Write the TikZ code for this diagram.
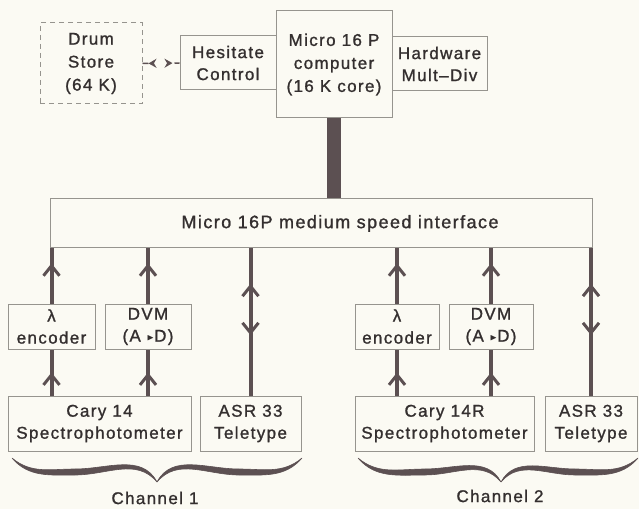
\documentclass[tikz,border=0pt]{standalone}
\usepackage{fontspec}
\setmainfont{Liberation Sans}[LetterSpace=8, FakeBold=1.2]
\usepackage{amssymb}
\usetikzlibrary{arrows.meta, decorations.markings, positioning}

\definecolor{paper}{RGB}{251,250,243}
\definecolor{ink}{RGB}{52,47,47}
\definecolor{wire}{RGB}{92,80,82}
\definecolor{frame}{RGB}{150,148,142}

\tikzset{
	unit/.style = {draw = frame, line width = 1pt, fill = paper, text = ink, align = center, inner sep = 0pt, font = \fontsize{17}{22}\selectfont},
	barb/.tip = {Straight Barb[length = 10pt, width = 16pt, line width = 3pt]},
	stub/.tip = {Stealth[length = 8pt, width = 9pt]},
	wireup/.style = {color = wire, line width = 4pt, postaction = {decorate}, decoration = {markings, mark = at position #1 with {\arrow{barb}}}},
	wireboth/.style = {color = wire, line width = 4pt, postaction = {decorate}, decoration = {markings, mark = at position 0.76 with {\arrow{barb}}, mark = at position 0.41 with {\arrowreversed{barb}}}},
	bus/.style = {color = wire, line width = 14pt},
	drumlink/.style = {color = wire, line width = 1.5pt, dash pattern = on 6pt off 26pt, postaction = {decorate}, decoration = {markings, mark = at position 6pt with {\arrowreversed{stub}}, mark = at position 30pt with {\arrow{stub}}}},
	brace/.style = {fill = wire, draw = wire, line width = 0.6pt, line join = round},
	chan/.style = {text = ink, font = \fontsize{17}{22}\selectfont}
}

\newcommand{\atod}{(A \raisebox{1.5pt}{\scalebox{0.55}{$\blacktriangleright$}}D)}

\begin{document}
\begin{tikzpicture}[x = 1pt, y = 1pt]

	\fill[paper] (0, 0) rectangle (639, 509);
	\useasboundingbox (0, 0) rectangle (639, 509);

	% top row
	\node[unit, dashed, dash pattern = on 5pt off 4pt, minimum width = 102pt, minimum height = 81pt, font = \fontsize{17}{23}\selectfont] (drum) at (91, 445.5) {Drum\\Store\\(64 K)};
	\node[unit, minimum width = 96pt, minimum height = 54pt] (hesit) at (228, 446) {Hesitate\\Control};
	\node[unit, minimum width = 116pt, minimum height = 107pt, font = \fontsize{17}{23}\selectfont] (cpu) at (334, 444.5) {Micro 16 P\\computer\\(16 K core)};
	\node[unit, minimum width = 95pt, minimum height = 54pt] (mult) at (439.5, 445) {Hardware\\Mult–Div};

	\node[unit, minimum width = 542pt, minimum height = 49pt, font = \fontsize{18}{22}\selectfont] (iface) at (321, 285.5) {\hspace*{38pt}Micro 16P medium speed interface};

	% channel 1
	\node[unit, minimum width = 87pt, minimum height = 45pt] (enca) at (51.5, 182.5) {λ\\encoder};
	\node[unit, minimum width = 86pt, minimum height = 45pt] (dvma) at (148, 182.5) {DVM\\\atod};
	\node[unit, minimum width = 183pt, minimum height = 55pt] (carya) at (99.5, 85.5) {Cary 14\\Spectrophotometer};
	\node[unit, minimum width = 101pt, minimum height = 55pt] (asra) at (250.5, 85.5) {ASR 33\\Teletype};

	% channel 2
	\node[unit, minimum width = 84pt, minimum height = 45pt] (encb) at (397, 182.5) {λ\\encoder};
	\node[unit, minimum width = 84pt, minimum height = 45pt] (dvmb) at (491, 182.5) {DVM\\\atod};
	\node[unit, minimum width = 179pt, minimum height = 55pt] (caryb) at (444.5, 85.5) {Cary 14R\\Spectrophotometer};
	\node[unit, minimum width = 92pt, minimum height = 55pt] (asrb) at (591, 85.5) {ASR 33\\Teletype};

	% links
	\draw[drumlink] (drum.east) -- (hesit.west);
	\draw[bus] (cpu.south) -- (cpu.south |- iface.north);

	\draw[wireup = 0.73] (enca.north) -- (enca.north |- iface.south);
	\draw[wireup = 0.5] (carya.north -| enca) -- (enca.south);
	\draw[wireup = 0.73] (dvma.north) -- (dvma.north |- iface.south);
	\draw[wireup = 0.5] (carya.north -| dvma) -- (dvma.south);
	\draw[wireboth] (asra.north) -- (asra.north |- iface.south);

	\draw[wireup = 0.73] (encb.north) -- (encb.north |- iface.south);
	\draw[wireup = 0.5] (caryb.north -| encb) -- (encb.south);
	\draw[wireup = 0.73] (dvmb.north) -- (dvmb.north |- iface.south);
	\draw[wireup = 0.5] (caryb.north -| dvmb) -- (dvmb.south);
	\draw[wireboth] (asrb.north) -- (asrb.north |- iface.south);

	% braces
	\draw[brace] (12, 51) to[out = -50, in = 180] (75, 34) to[out = 0, in = 130] (157, 27) to[out = 118, in = 0] (75, 40) to[out = 180, in = -40] (12, 51) -- cycle;
	\draw[brace] (157, 27) to[out = 50, in = 180] (239, 34) to[out = 0, in = 230] (302, 51) to[out = 220, in = 0] (239, 40) to[out = 180, in = 62] (157, 27) -- cycle;
	\draw[brace] (358, 51) to[out = -50, in = 180] (425, 34) to[out = 0, in = 130] (501, 27) to[out = 118, in = 0] (425, 40) to[out = 180, in = -40] (358, 51) -- cycle;
	\draw[brace] (501, 27) to[out = 50, in = 180] (575, 34) to[out = 0, in = 230] (638, 51) to[out = 220, in = 0] (575, 40) to[out = 180, in = 62] (501, 27) -- cycle;

	\node[chan] (cha) at (155, 11) {Channel 1};
	\node[chan] (chb) at (500, 13) {Channel 2};

\end{tikzpicture}
\end{document}
